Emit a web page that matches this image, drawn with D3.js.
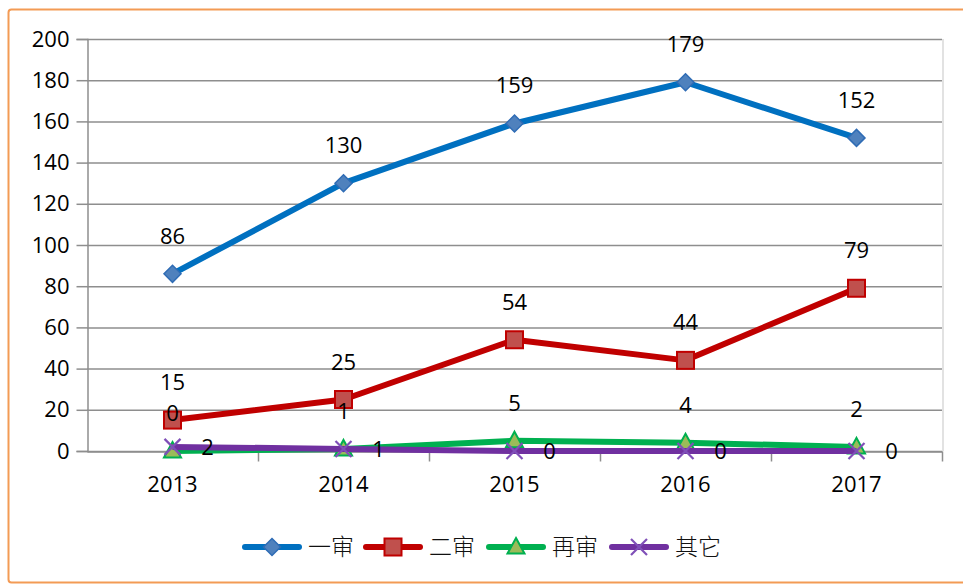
<!DOCTYPE html>
<html>
<head>
<meta charset="utf-8">
<script src="https://cdn.jsdelivr.net/npm/d3@7"></script>
<style>
  body { margin: 0; background: #fff; }
  svg { display: block; }
  .tick text { font-family: "Open Sans", "Liberation Sans", sans-serif; }
</style>
</head>
<body>
<div id="chart"></div>
<script>
// chart data
const years = ['2013', '2014', '2015', '2016', '2017'];
const yiShen = [86, 130, 159, 179, 152];
const erShen = [15, 25, 54, 44, 79];
const zaiShen = [0, 1, 5, 4, 2];
const qiTa = [2, 1, 0, 0, 0];
const yTicks = [0, 20, 40, 60, 80, 100, 120, 140, 160, 180, 200];

const series = [
  { name: '一审', values: yiShen, line: '#0070C0', fill: '#4F81BD', stroke: '#2F6CB5', shape: 'diamond', label: 'top' },
  { name: '二审', values: erShen, line: '#C00000', fill: '#C0504D', stroke: '#C00000', shape: 'square', label: 'top' },
  { name: '再审', values: zaiShen, line: '#00B050', fill: '#9BBB59', stroke: '#00B050', shape: 'triangle', label: 'top' },
  { name: '其它', values: qiTa, line: '#7030A0', fill: '#7F4FB8', stroke: '#7F4FB8', shape: 'cross', label: 'right' }
];

const width = 963, height = 585;
const margin = { left: 87, right: 21, top: 39, bottom: 134 };

const svg = d3.select('#chart')
  .append('svg')
  .attr('width', width)
  .attr('height', height);

// orange frame
svg.append('rect')
  .attr('x', 8.5)
  .attr('y', 9.5)
  .attr('width', 980)
  .attr('height', 573)
  .attr('rx', 3)
  .attr('fill', 'none')
  .attr('stroke', '#F39B55')
  .attr('stroke-width', 2);

const x = d3.scaleBand()
  .domain(years)
  .range([margin.left, width - margin.right]);

const y = d3.scaleLinear()
  .domain([0, 200])
  .range([height - margin.bottom, margin.top]);

// gridlines
svg.append('g')
  .selectAll('line')
  .data(yTicks)
  .join('line')
  .attr('x1', margin.left)
  .attr('x2', width - margin.right)
  .attr('y1', d => y(d) + 0.5)
  .attr('y2', d => y(d) + 0.5)
  .attr('stroke', '#8E8E8E')
  .attr('stroke-width', 1.5);

// faint right edge
svg.append('line')
  .attr('x1', width - margin.right + 1)
  .attr('x2', width - margin.right + 1)
  .attr('y1', margin.top)
  .attr('y2', y(0))
  .attr('stroke', '#E2E2E2')
  .attr('stroke-width', 2);

// y axis
const yAxis = svg.append('g')
  .attr('transform', `translate(${margin.left + 0.5},0)`)
  .call(d3.axisLeft(y).tickValues(yTicks).tickSize(11).tickPadding(7));
yAxis.selectAll('.domain').attr('stroke', '#8E8E8E').attr('stroke-width', 1.5);
yAxis.selectAll('.tick line').attr('stroke', '#8E8E8E').attr('stroke-width', 1.5);
yAxis.selectAll('.tick text').attr('font-size', 22).attr('fill', '#000');

// x axis: ticks at category boundaries
const xAxis = svg.append('g')
  .attr('transform', `translate(0,${y(0) + 0.5})`)
  .call(d3.axisBottom(x).tickSize(0).tickPadding(25));
xAxis.selectAll('.domain').attr('stroke', '#8E8E8E').attr('stroke-width', 1.5);
xAxis.selectAll('.tick text').attr('font-size', 22).attr('fill', '#000');
xAxis.append('g')
  .selectAll('line')
  .data(years.slice(1).concat(['end']))
  .join('line')
  .attr('x1', (d, i) => margin.left + x.step() * (i + 1) + 0.5)
  .attr('x2', (d, i) => margin.left + x.step() * (i + 1) + 0.5)
  .attr('y1', 0)
  .attr('y2', 10)
  .attr('stroke', '#8E8E8E')
  .attr('stroke-width', 1.5);

const cx = d => x(d) + x.bandwidth() / 2;

// marker drawing helper
const drawMarker = (g, shape, s) => {
  if (shape === 'diamond') {
    g.append('path')
      .attr('d', 'M0,-8.5L8.5,0L0,8.5L-8.5,0Z')
      .attr('fill', s.fill).attr('stroke', s.stroke).attr('stroke-width', 1.5);
  } else if (shape === 'square') {
    g.append('rect')
      .attr('x', -8.5).attr('y', -8.5).attr('width', 17).attr('height', 17)
      .attr('fill', s.fill).attr('stroke', s.stroke).attr('stroke-width', 2);
  } else if (shape === 'triangle') {
    g.append('path')
      .attr('d', 'M0,-9L8.5,6.5L-8.5,6.5Z')
      .attr('fill', s.fill).attr('stroke', s.stroke).attr('stroke-width', 2);
  } else {
    g.append('path')
      .attr('d', 'M-8,-8L8,8M8,-8L-8,8')
      .attr('fill', 'none').attr('stroke', s.fill).attr('stroke-width', 2.2);
  }
};

const line = d3.line()
  .x((d, i) => cx(years[i]))
  .y(d => y(d));

series.forEach(s => {
  const g = svg.append('g');
  g.append('path')
    .datum(s.values)
    .attr('d', line)
    .attr('fill', 'none')
    .attr('stroke', s.line)
    .attr('stroke-width', 6)
    .attr('stroke-linejoin', 'round');
  s.values.forEach((v, i) => {
    const m = g.append('g')
      .attr('transform', `translate(${cx(years[i])},${y(v)})`);
    drawMarker(m, s.shape, s);
  });
});

// data labels on top of everything
series.forEach(s => {
  svg.append('g')
    .selectAll('text')
    .data(s.values)
    .join('text')
    .attr('x', (d, i) => s.label === 'right' ? cx(years[i]) + 35 : cx(years[i]))
    .attr('y', d => s.label === 'right' ? y(d) + 8 : y(d) - 30)
    .attr('text-anchor', 'middle')
    .attr('font-family', '"Open Sans", "Liberation Sans", sans-serif')
    .attr('font-size', 22)
    .attr('fill', '#000')
    .text(d => d);
});

// legend
const legendX = [243, 364, 487, 610];
const legend = svg.append('g')
  .attr('transform', 'translate(0,547)');
series.forEach((s, i) => {
  const g = legend.append('g').attr('transform', `translate(${legendX[i]},0)`);
  g.append('line')
    .attr('x1', 2).attr('x2', 56)
    .attr('stroke', s.line).attr('stroke-width', 6)
    .attr('stroke-linecap', 'round');
  const m = g.append('g').attr('transform', 'translate(29,0)');
  drawMarker(m, s.shape, s);
  g.append('text')
    .attr('x', 65)
    .attr('y', 8)
    .attr('font-family', '"Noto Sans CJK SC", sans-serif')
    .attr('font-weight', 300)
    .attr('font-size', 23)
    .attr('fill', '#111')
    .text(s.name);
});
</script>
</body>
</html>
